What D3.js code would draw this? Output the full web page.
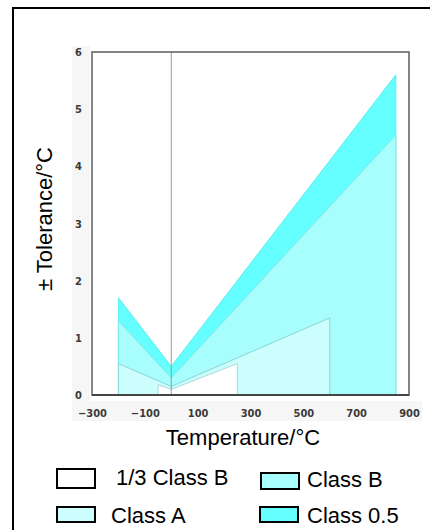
<!DOCTYPE html>
<html><head><meta charset="utf-8">
<script src="https://cdn.jsdelivr.net/npm/d3@7"></script>
<style>body{margin:0;background:#fff;} svg{display:block;}</style>
</head><body>
<script>
// ---- data ----
const tempTicks = [-300, -100, 100, 300, 500, 700, 900];
const tolTicks = [0, 1, 2, 3, 4, 5, 6];
const seriesNames = ["Class 0.5", "Class B", "Class A", "1/3 Class B"];
const class05Temp = [-200, 0, 850];
const class05Tol  = [1.7, 0.5, 5.6];
const classBTemp  = [-200, 0, 850];
const classBTol   = [1.3, 0.3, 4.55];
const classATemp  = [-200, 0, 600];
const classATol   = [0.55, 0.15, 1.35];
const thirdBTemp  = [-50, 0, 250];
const thirdBTol   = [0.18, 0.1, 0.55];
const legendOrder = ["1/3 Class B", "Class B", "Class A", "Class 0.5"];

const W = 430, H = 530;
const fills = {"Class 0.5": "#66ffff", "Class B": "#a8fdfd", "Class A": "#cdfefe", "1/3 Class B": "#ffffff"};
const edges = {"Class 0.5": "#55eeee", "Class B": "#7fe6e6", "Class A": "#88d6d6", "1/3 Class B": "#a6dada"};

const svg = d3.select("body").append("svg").attr("width", W).attr("height", H);
svg.append("rect").attr("width", W).attr("height", H).attr("fill", "#fff");
// outer frame (right/bottom edges off-canvas)
svg.append("rect").attr("x", 13).attr("y", 8).attr("width", 440).attr("height", 540)
  .attr("fill", "none").attr("stroke", "#000").attr("stroke-width", 2);

const m = {l: 92, r: 409, t: 52, b: 395};
const x = d3.scaleLinear().domain([-300, 900]).range([m.l, m.r]);
const y = d3.scaleLinear().domain([0, 6]).range([m.b, m.t]);

// faint label background
svg.append("rect").attr("x", 72).attr("y", 46).attr("width", 18).attr("height", 356).attr("fill", "#f6f6f6");
svg.append("rect").attr("x", 72).attr("y", 401).attr("width", 350).attr("height", 20).attr("fill", "#f6f6f6");

// plot background
svg.append("rect").attr("x", m.l).attr("y", m.t).attr("width", m.r - m.l).attr("height", m.b - m.t).attr("fill", "#fff");

const series = [
  {name: "Class 0.5", t: class05Temp, v: class05Tol},
  {name: "Class B", t: classBTemp, v: classBTol},
  {name: "Class A", t: classATemp, v: classATol},
  {name: "1/3 Class B", t: thirdBTemp, v: thirdBTol}
];
const area = d3.area().x(d => x(d[0])).y0(y(0)).y1(d => y(d[1]));
series.forEach(s => {
  const pts = s.t.map((t, i) => [t, s.v[i]]);
  svg.append("path").attr("d", area(pts)).attr("fill", fills[s.name])
    .attr("stroke", edges[s.name]).attr("stroke-width", 1);
});

// zero line
svg.append("line").attr("x1", x(0)).attr("x2", x(0)).attr("y1", m.t).attr("y2", m.b)
  .attr("stroke", "#999").attr("stroke-width", 1);

// frame
svg.append("rect").attr("x", m.l).attr("y", m.t).attr("width", m.r - m.l).attr("height", m.b - m.t)
  .attr("fill", "none").attr("stroke", "#666").attr("stroke-width", 1.6);
svg.append("line").attr("x1", m.l).attr("x2", m.r).attr("y1", m.b).attr("y2", m.b)
  .attr("stroke", "#444").attr("stroke-width", 1.8);

// axes (labels only)
const tickFont = "DejaVu Sans Condensed, DejaVu Sans, sans-serif";
const xa = svg.append("g").attr("transform", `translate(0,${m.b + 18})`)
  .call(d3.axisBottom(x).tickValues(tempTicks).tickSize(0).tickPadding(0).tickFormat(d3.format("d")));
xa.select(".domain").remove();
xa.selectAll("text").attr("font-family", tickFont)
  .attr("font-size", 11).attr("font-weight", "bold").attr("fill", "#3a3a3a").attr("dy", "0.35em").attr("y", 0);

const ya = svg.append("g").attr("transform", `translate(${m.l - 10},0)`)
  .call(d3.axisLeft(y).tickValues(tolTicks).tickSize(0).tickPadding(0).tickFormat(d3.format("d")));
ya.select(".domain").remove();
ya.selectAll("text").attr("font-family", tickFont)
  .attr("font-size", 11).attr("font-weight", "bold").attr("fill", "#3a3a3a");

// axis titles
const font = "Liberation Sans, Arial, Helvetica, sans-serif";
svg.append("text").attr("x", 243).attr("y", 445).attr("text-anchor", "middle")
  .attr("font-family", font).attr("font-size", 22).attr("fill", "#000").text("Temperature/°C");
svg.append("text").attr("transform", "translate(52,219) rotate(-90)").attr("text-anchor", "middle")
  .attr("font-family", font).attr("font-size", 22).attr("fill", "#000").text("± Tolerance/°C");

// legend
const legPos = [
  {rx: 57, ry: 469, rw: 38, rh: 19, tx: 116, ty: 485},
  {rx: 261, ry: 473, rw: 38, rh: 16, tx: 307, ty: 487},
  {rx: 57, ry: 507, rw: 38, rh: 15, tx: 111, ty: 523},
  {rx: 260, ry: 507, rw: 38, rh: 15, tx: 307, ty: 523}
];
legendOrder.forEach((name, i) => {
  const p = legPos[i];
  svg.append("rect").attr("x", p.rx).attr("y", p.ry).attr("width", p.rw).attr("height", p.rh)
    .attr("fill", fills[name]).attr("stroke", "#000").attr("stroke-width", 2);
  svg.append("text").attr("x", p.tx).attr("y", p.ty).attr("font-family", font)
    .attr("font-size", 22).attr("fill", "#000").text(name);
});
</script>
</body></html>
